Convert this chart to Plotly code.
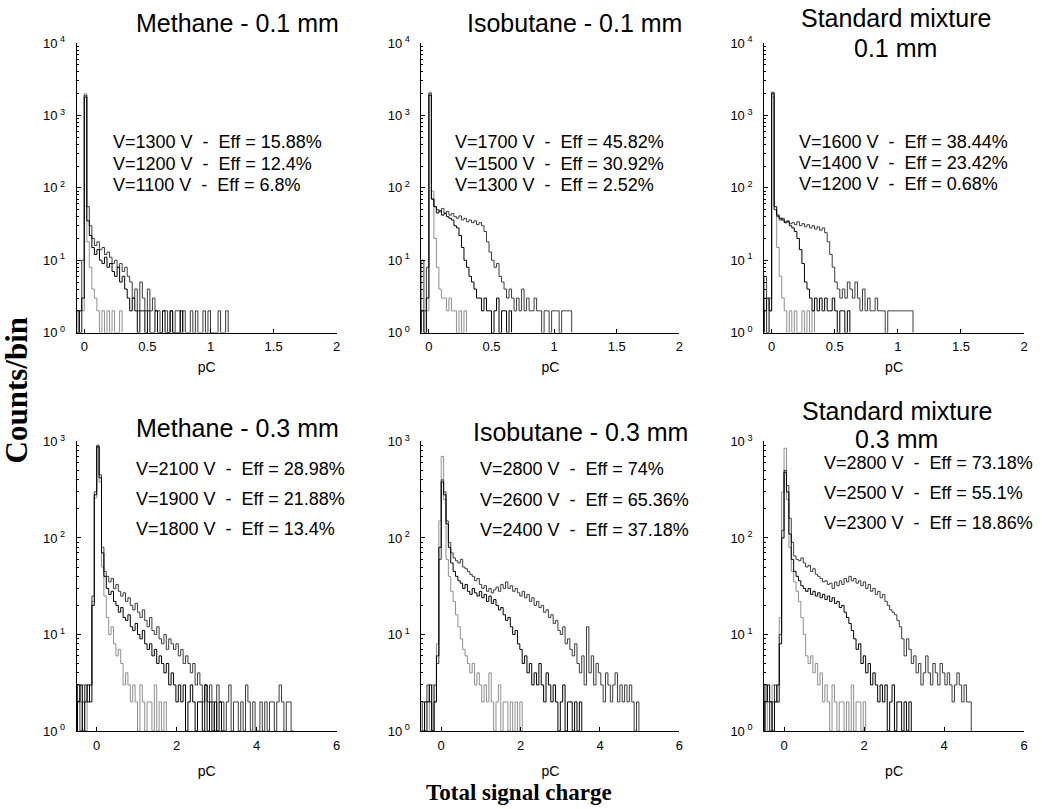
import plotly.graph_objects as go

# ---------------- data (counts per bin) ----------------
# top row: bins start at -0.06 pC, width 0.02 pC
top_start = -0.06
top_width = 0.02
# bottom row: bins start at -0.48 pC, width 0.06 pC
bot_start = -0.48
bot_width = 0.06

methane01_1300 = [2, 1, 10, 1900, 55, 30, 20, 16, 18, 14, 15, 12, 13, 11, 9, 10, 8, 9, 7, 8, 6, 5, 3, 4, 2, 5, 3, 2, 4, 2,
                  3, 2, 2, 1, 2, 2, 1, 2, 1, 2, 2, 1, 2, 1, 1, 2, 1, 2, 1, 1, 2, 1, 2, 1, 1, 1, 2, 1, 1, 2]
methane01_1200 = [1, 2, 3, 1800, 35, 22, 15, 12, 14, 10, 9, 11, 8, 9, 7, 6, 8, 5, 6, 4, 3, 2, 3, 2, 1, 2, 2, 1, 2, 1,
                  1, 2, 1, 1, 2, 1, 1, 2, 1, 1, 1, 2]
methane01_1100 = [2, 1, 2, 2000, 18, 8, 4, 3, 2, 1, 2, 1, 2, 1, 2, 1, 1, 2]

isobutane01_1700 = [10, 2, 8, 2000, 70, 55, 50, 48, 52, 45, 47, 42, 44, 40, 38, 41, 36, 38, 34, 36, 33, 35, 31, 33, 30,
                    25, 18, 13, 10, 8, 9, 6, 5, 4, 3, 4, 3, 2, 3, 2, 4, 2, 3, 2, 2, 3, 2, 2, 1, 2, 2, 1, 2, 2, 2, 1, 2,
                    2, 2, 2]
isobutane01_1500 = [2, 1, 3, 1900, 70, 55, 45, 48, 42, 44, 40, 38, 36, 30, 28, 22, 15, 10, 8, 6, 5, 4, 3, 3, 2, 3, 2, 2,
                    1, 2, 3, 1, 2, 2, 1, 2]
isobutane01_1300 = [2, 1, 2, 2100, 90, 20, 8, 4, 3, 3, 2, 3, 2, 2, 1, 2, 1, 2]

standard01_1600 = [6, 1, 3, 2100, 50, 40, 36, 38, 34, 35, 32, 33, 31, 34, 30, 32, 29, 31, 28, 30, 27, 29, 26, 28, 24,
                   18, 12, 8, 5, 4, 3, 4, 3, 5, 4, 3, 5, 3, 2, 4, 2, 3, 2, 2, 3, 2, 2, 2, 1, 2, 2, 2, 2, 2, 2, 2, 2, 2, 2]
standard01_1400 = [2, 3, 2, 2000, 55, 42, 38, 36, 33, 34, 30, 28, 25, 20, 14, 9, 5, 4, 3, 2, 3, 2, 3, 2, 3, 2, 2, 3, 2,
                   1, 2, 2, 1, 2]
standard01_1200 = [3, 1, 2, 1800, 50, 15, 6, 3, 2, 1, 2, 1, 2, 1, 1, 2, 1, 2, 1, 2]

methane03_2100 = [3, 1, 2, 3, 2, 3, 25, 300, 900, 450, 80, 45, 40, 35, 38, 30, 33, 28, 25, 27, 22, 24, 20, 18, 21, 17,
                  15, 18, 14, 12, 15, 11, 10, 12, 9, 8, 10, 7, 9, 8, 7, 8, 6, 7, 5, 6, 5, 4, 5, 3, 4, 3, 2, 3, 2, 3, 2,
                  1, 3, 2, 2, 1, 2, 3, 1, 2, 2, 1, 2, 1, 3, 2, 1, 2, 1, 1, 2, 1, 2, 1, 2, 2, 1, 2, 3, 2, 1, 2, 2, 1]
methane03_1900 = [2, 3, 1, 2, 3, 2, 20, 280, 880, 420, 70, 40, 30, 26, 28, 22, 20, 17, 19, 15, 14, 16, 12, 11, 13, 10,
                  9, 11, 8, 7, 8, 6, 7, 5, 6, 5, 4, 5, 3, 4, 3, 2, 3, 2, 3, 1, 2, 3, 2, 1, 2, 2, 1, 3, 1, 2, 1, 2, 1, 2,
                  1]
methane03_1800 = [3, 2, 3, 1, 2, 3, 22, 260, 920, 380, 50, 25, 15, 10, 12, 8, 6, 7, 5, 3, 4, 3, 2, 3, 2, 1, 3, 2, 1, 2,
                  2, 1, 3, 1, 2, 1, 2]

isobutane03_2800 = [2, 1, 3, 2, 1, 3, 5, 60, 400, 300, 150, 90, 70, 62, 58, 55, 60, 50, 48, 45, 42, 40, 36, 38, 33, 30,
                    32, 28, 30, 27, 29, 31, 28, 33, 30, 35, 30, 32, 28, 30, 27, 25, 28, 24, 26, 22, 24, 20, 22, 19, 20,
                    17, 18, 15, 16, 13, 14, 11, 10, 12, 8, 9, 7, 6, 8, 5, 4, 6, 3, 12, 4, 6, 3, 5, 4, 3, 2, 4, 3, 2, 3,
                    4, 2, 3, 2, 3, 2, 3, 2, 1, 2]
isobutane03_2600 = [1, 2, 2, 3, 1, 2, 6, 80, 380, 280, 140, 80, 55, 45, 40, 36, 34, 30, 33, 28, 26, 30, 27, 25, 28, 24,
                    26, 22, 25, 21, 23, 20, 18, 19, 16, 14, 15, 12, 10, 11, 8, 7, 5, 6, 4, 5, 3, 4, 3, 5, 3, 2, 4, 3, 2,
                    3, 2, 1, 2, 3, 1, 2, 2, 1, 2, 1, 2]
isobutane03_2400 = [2, 1, 2, 1, 3, 2, 8, 150, 700, 250, 60, 40, 28, 22, 16, 12, 9, 7, 6, 5, 4, 5, 3, 4, 3, 2, 3, 2, 4,
                    2, 1, 2, 3, 1, 2, 2, 1, 2, 1, 2, 1, 2]

standard03_2800 = [3, 2, 1, 2, 3, 2, 10, 120, 500, 350, 160, 90, 65, 60, 58, 62, 55, 50, 52, 45, 48, 42, 40, 38, 35, 36,
                   33, 34, 30, 35, 32, 36, 33, 38, 35, 40, 36, 38, 34, 36, 32, 35, 30, 33, 28, 30, 26, 28, 24, 26, 22,
                   20, 18, 17, 16, 14, 12, 9, 6, 9, 7, 5, 6, 4, 5, 3, 4, 6, 4, 3, 5, 4, 3, 5, 4, 3, 4, 3, 2, 3, 4, 3,
                   2, 3, 2, 2]
standard03_2500 = [2, 3, 2, 1, 2, 3, 8, 100, 480, 300, 110, 60, 45, 40, 36, 32, 30, 28, 30, 26, 28, 25, 27, 24, 26, 23,
                   25, 22, 24, 21, 22, 19, 20, 17, 15, 13, 11, 9, 7, 8, 5, 6, 4, 5, 3, 4, 3, 2, 3, 2, 3, 1, 2, 3, 1, 2,
                   2, 1, 2, 1, 2]
standard03_2300 = [3, 1, 2, 3, 2, 2, 15, 300, 850, 250, 80, 45, 35, 28, 22, 15, 10, 6, 5, 6, 4, 5, 3, 4, 2, 3, 2, 1, 3,
                   2, 1, 2, 2, 1, 2, 1, 3, 1, 2, 2, 1, 2]

top_xticks = [0, 0.5, 1, 1.5, 2]
top_xticklabels = ["0", "0.5", "1", "1.5", "2"]
bot_xticks = [0, 2, 4, 6]
bot_xticklabels = ["0", "2", "4", "6"]
top_yticks = [1, 10, 100, 1000, 10000]
top_yticklabels = ["10<sup> 0</sup>", "10<sup> 1</sup>", "10<sup> 2</sup>", "10<sup> 3</sup>", "10<sup> 4</sup>"]
bot_yticks = [1, 10, 100, 1000]
bot_yticklabels = ["10<sup> 0</sup>", "10<sup> 1</sup>", "10<sup> 2</sup>", "10<sup> 3</sup>"]

# ---------------- figure ----------------
W, H = 1042, 809
SANS = "Liberation Sans, Arial, Helvetica, sans-serif"
NARROW = "Liberation Sans Narrow, Liberation Sans, Arial, sans-serif"
SERIF = "Liberation Serif, Times New Roman, serif"
NB = "\u00a0"

# vertical placement correction (the page is photographed slightly squeezed vertically)
VS, VO = 0.9806, 8.0


def py(y):
    # paper fraction for a wanted pixel row
    return 1 - (y / VS - VO) / H


def fx(a, b):
    return [a / W, b / W]


def fy(top, bottom):
    return [py(bottom), py(top)]


line_colors = ["#3c3c3c", "#000000", "#8f8f8f"]

panels = [
    dict(title=["Methane - 0.1 mm"], tpos=[(238, 22)], row="top", xpx=(77, 338),
         series=[methane01_1300, methane01_1200, methane01_1100],
         labels=["V=1300 V  -  Eff = 15.88%", "V=1200 V  -  Eff = 12.4%", "V=1100 V  -  Eff = 6.8%"],
         lab_x=112, lab_y=[141, 163, 184]),
    dict(title=["Isobutane - 0.1 mm"], tpos=[(577, 22)], row="top", xpx=(423, 682),
         series=[isobutane01_1700, isobutane01_1500, isobutane01_1300],
         labels=["V=1700 V  -  Eff = 45.82%", "V=1500 V  -  Eff = 30.92%", "V=1300 V  -  Eff = 2.52%"],
         lab_x=456, lab_y=[141, 163, 184]),
    dict(title=["Standard mixture", "0.1 mm"], tpos=[(899, 17), (899, 47)], row="top", xpx=(767, 1028),
         series=[standard01_1600, standard01_1400, standard01_1200],
         labels=["V=1600 V  -  Eff = 38.44%", "V=1400 V  -  Eff = 23.42%", "V=1200 V  -  Eff = 0.68%"],
         lab_x=801, lab_y=[141, 162, 183]),
    dict(title=["Methane - 0.3 mm"], tpos=[(238, 428)], row="bot", xpx=(77, 338),
         series=[methane03_2100, methane03_1900, methane03_1800],
         labels=["V=2100 V  -  Eff = 28.98%", "V=1900 V  -  Eff = 21.88%", "V=1800 V  -  Eff = 13.4%"],
         lab_x=136, lab_y=[469, 499, 529]),
    dict(title=["Isobutane - 0.3 mm"], tpos=[(583, 432)], row="bot", xpx=(423, 682),
         series=[isobutane03_2800, isobutane03_2600, isobutane03_2400],
         labels=["V=2800 V  -  Eff = 74%", "V=2600 V  -  Eff = 65.36%", "V=2400 V  -  Eff = 37.18%"],
         lab_x=481, lab_y=[469, 500, 530]),
    dict(title=["Standard mixture", "0.3 mm"], tpos=[(900, 411), (900, 439)], row="bot", xpx=(767, 1028),
         series=[standard03_2800, standard03_2500, standard03_2300],
         labels=["V=2800 V  -  Eff = 73.18%", "V=2500 V  -  Eff = 55.1%", "V=2300 V  -  Eff = 18.86%"],
         lab_x=826, lab_y=[463, 493, 523]),
]

fig = go.Figure()
annotations = []
layout = {}

for k, p in enumerate(panels):
    n = k + 1
    xa = "x" if n == 1 else f"x{n}"
    ya = "y" if n == 1 else f"y{n}"
    top = p["row"] == "top"
    start = top_start if top else bot_start
    width = top_width if top else bot_width
    # draw lowest voltage first so darker lines sit on top
    for s_idx in [2, 0, 1]:
        counts = p["series"][s_idx]
        nb = len(counts)
        xs = [start] + [start + width * i for i in range(nb)] + [start + width * nb]
        ys = [1] + [max(c, 1) for c in counts] + [1]
        fig.add_trace(go.Scatter(x=xs, y=ys, mode="lines", line=dict(shape="hv", width=1, color=line_colors[s_idx]),
                                 xaxis=xa, yaxis=ya, showlegend=False, hoverinfo="skip"))
    ytop, ybot = (42, 332) if top else (441, 731)
    layout["xaxis" if n == 1 else f"xaxis{n}"] = dict(
        domain=fx(*p["xpx"]), anchor=ya,
        range=[-0.06, 2.0] if top else [-0.5, 6.0],
        tickvals=top_xticks if top else bot_xticks,
        ticktext=top_xticklabels if top else bot_xticklabels,
        ticks="inside", ticklen=4, tickcolor="#000", tickwidth=1,
        showline=True, linecolor="#000", linewidth=1, mirror=False,
        showgrid=False, zeroline=False,
        tickfont=dict(family=NARROW, size=13, color="#000"),
        ticklabelstandoff=2,
        title=dict(text="pC", font=dict(family=NARROW, size=14, color="#000"), standoff=8 if top else 14),
    )
    layout["yaxis" if n == 1 else f"yaxis{n}"] = dict(
        domain=fy(ytop, ybot), anchor=xa, type="log",
        range=[0, 4] if top else [0, 3],
        tickvals=top_yticks if top else bot_yticks,
        ticktext=top_yticklabels if top else bot_yticklabels,
        ticks="inside", ticklen=4, tickcolor="#000", tickwidth=1,
        minor=dict(ticks="inside", ticklen=2, tickcolor="#000", dtick="D1", showgrid=False),
        showline=True, linecolor="#000", linewidth=1, mirror=False,
        showgrid=False, zeroline=False,
        tickfont=dict(family=SANS, size=13, color="#000"),
        ticklabelstandoff=8,
    )
    for (tx, ty), t in zip(p["tpos"], p["title"]):
        annotations.append(dict(text=t, x=tx / W, y=py(ty), xref="paper", yref="paper",
                                xanchor="center", yanchor="middle", showarrow=False, borderpad=0,
                                font=dict(family=SANS, size=25, color="#000")))
    for ly, t in zip(p["lab_y"], p["labels"]):
        annotations.append(dict(text=t.replace(" ", NB), x=p["lab_x"] / W, y=py(ly), xref="paper", yref="paper",
                                xanchor="left", yanchor="middle", showarrow=False, borderpad=0,
                                font=dict(family=SANS, size=18, color="#000")))

annotations.append(dict(text="<b>Counts/bin</b>", x=17 / W, y=py(390), xref="paper", yref="paper",
                        textangle=-90, xanchor="center", yanchor="middle", showarrow=False,
                        font=dict(family=SERIF, size=31, color="#000")))
annotations.append(dict(text="<b>Total signal charge</b>", x=521 / W, y=py(793), xref="paper", yref="paper",
                        xanchor="center", yanchor="middle", showarrow=False,
                        font=dict(family=SERIF, size=23, color="#000")))

fig.update_layout(width=W, height=H, margin=dict(l=0, r=0, t=0, b=0),
                  paper_bgcolor="white", plot_bgcolor="white",
                  annotations=annotations, **layout)

fig.write_html("out.html", config={"displayModeBar": False},
               post_script="document.body.style.margin='0px';document.body.style.padding='0px';")
